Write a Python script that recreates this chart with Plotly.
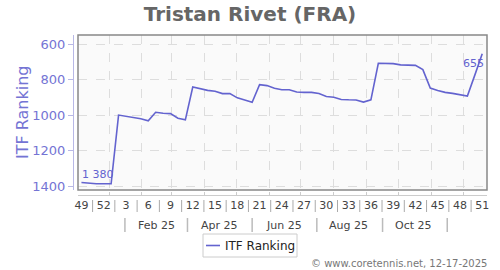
import plotly.graph_objects as go
import pandas as pd

title = "Tristan Rivet (FRA)"
series_name = "ITF Ranking"
start_date = "2024-12-06"
weeks = [49, 50, 51, 52] + list(range(1, 52))
ranking = [1380, 1385, 1387, 1387, 1387, 1000, 1006, 1012, 1021, 1032,
           984, 990, 992, 1018, 1027, 842, 853, 861, 866, 879,
           879, 903, 915, 928, 829, 834, 849, 857, 857, 870,
           872, 872, 878, 895, 900, 912, 914, 915, 927, 914,
           708, 708, 710, 717, 720, 720, 744, 848, 861, 872,
           878, 885, 893, 775, 655]
month_labels = ["Feb 25", "Apr 25", "Jun 25", "Aug 25", "Oct 25"]
month_centers = ["2025-02-15", "2025-04-15", "2025-06-15", "2025-08-15", "2025-10-15"]
month_seps = ["2025-01-16", "2025-03-16", "2025-05-16", "2025-07-16", "2025-09-16", "2025-11-16"]
y_ticks = [600, 800, 1000, 1200, 1400]
credit = "© www.coretennis.net, 12-17-2025"

dates = pd.date_range(start_date, periods=len(ranking), freq="7D")
label_idx = list(range(0, len(weeks), 3))

FONT = "DejaVu Sans"
PURPLE = "#6363cf"
AXIS_PURPLE = "#7474d4"

PW = 414.0  # paper width px
PH = 160.0  # paper height px
def px_x(px):
    return (px - 73) / PW
def px_y(py):
    return (195 - py) / PH

fig = go.Figure()
fig.add_trace(go.Scatter(x=dates, y=ranking, mode="lines", name=series_name,
                         line=dict(color=PURPLE, width=1.6),
                         hoverinfo="skip", showlegend=False))

shapes = []
shapes.append(dict(type="rect", xref="x domain", yref="y domain", x0=0, x1=1, y0=0, y1=1,
                   line=dict(color="#888888", width=1.5), layer="above"))
for k in range(len(label_idx) - 1):
    d = dates[label_idx[k]] + pd.Timedelta(days=10.5)
    shapes.append(dict(type="line", xref="x", yref="paper", x0=d, x1=d,
                       y0=px_y(200), y1=px_y(212),
                       line=dict(color="#aaaaaa", width=1)))
for s in month_seps:
    shapes.append(dict(type="line", xref="x", yref="paper", x0=s, x1=s,
                       y0=px_y(218), y1=px_y(232),
                       line=dict(color="#bbbbbb", width=1.5)))
# legend box (manual)
shapes.append(dict(type="rect", xref="paper", yref="paper",
                   x0=px_x(203), x1=px_x(297), y0=px_y(234), y1=px_y(257),
                   line=dict(color="#cccccc", width=1), fillcolor="white"))
shapes.append(dict(type="line", xref="paper", yref="paper",
                   x0=px_x(206), x1=px_x(220), y0=px_y(245.5), y1=px_y(245.5),
                   line=dict(color=PURPLE, width=1.6)))

annotations = []
for lab, c in zip(month_labels, month_centers):
    annotations.append(dict(x=c, y=px_y(225), xref="x", yref="paper", text=lab, showarrow=False,
                            font=dict(family=FONT, size=11, color="#444444"),
                            xanchor="center", yanchor="middle"))
annotations.append(dict(x=dates[0], y=ranking[0], xref="x", yref="y",
                        text=f"{ranking[0]:,}".replace(",", " "), showarrow=False,
                        font=dict(family=FONT, size=11, color=PURPLE),
                        xanchor="left", yanchor="middle", yshift=8, xshift=-1))
annotations.append(dict(x=dates[-1], y=ranking[-1], xref="x", yref="y",
                        text=f"{ranking[-1]}", showarrow=False,
                        font=dict(family=FONT, size=11, color=PURPLE),
                        xanchor="right", yanchor="middle", yshift=-10, xshift=4))
annotations.append(dict(x=px_x(22), y=px_y(112), xref="paper", yref="paper", text=series_name,
                        showarrow=False, textangle=-90, xanchor="center", yanchor="middle",
                        font=dict(family=FONT, size=16, color=AXIS_PURPLE)))
annotations.append(dict(x=px_x(489), y=px_y(263), xref="paper", yref="paper",
                        text=credit, showarrow=False, xanchor="right", yanchor="middle",
                        font=dict(family=FONT, size=10, color="#777777")))
annotations.append(dict(x=px_x(223), y=px_y(245.5), xref="paper", yref="paper",
                        text=series_name, showarrow=False, xanchor="left", yanchor="middle",
                        font=dict(family=FONT, size=12, color="#222222")))

fig.update_layout(
    width=500, height=270,
    margin=dict(l=73, r=13, t=35, b=75, autoexpand=False),
    paper_bgcolor="white",
    plot_bgcolor="#fafafa",
    separators=". ",
    title=dict(text=f"<b>{title}</b>", x=0.5, xref="container", xanchor="center",
               y=1 - 14 / 270, yref="container", yanchor="middle",
               font=dict(family=FONT, size=20, color="#666666")),
    showlegend=False,
    shapes=shapes,
    annotations=annotations,
    xaxis=dict(type="date", domain=[5 / PW, 1], anchor="free", position=0,
               range=["2024-12-02 18:00", "2025-12-23 12:00"],
               tickmode="array", tickvals=[dates[i] for i in label_idx],
               ticktext=[str(weeks[i]) for i in label_idx],
               ticks="", showgrid=False, zeroline=False,
               showline=True, linecolor="#cccccc", linewidth=1,
               tickfont=dict(family=FONT, size=11, color="#444444"),
               minor=dict(tickmode="linear", tick0="2025-01-01", dtick="M1",
                          showgrid=True, gridcolor="#dddddd", griddash="dash", gridwidth=1,
                          ticks="inside", ticklen=3, tickcolor="#cccccc")),
    yaxis=dict(domain=[5 / PH, 1], anchor="free", position=0,
               range=[1422, 549], tickmode="array", tickvals=y_ticks,
               ticks="outside", ticklen=5, tickcolor="#b8b8e6",
               showline=True, linecolor="#b8b8e6", linewidth=1,
               showgrid=True, gridcolor="#dddddd", griddash="dash", gridwidth=1,
               zeroline=False,
               tickfont=dict(family=FONT, size=13, color=AXIS_PURPLE)),
)

fig.write_html("out.html")
